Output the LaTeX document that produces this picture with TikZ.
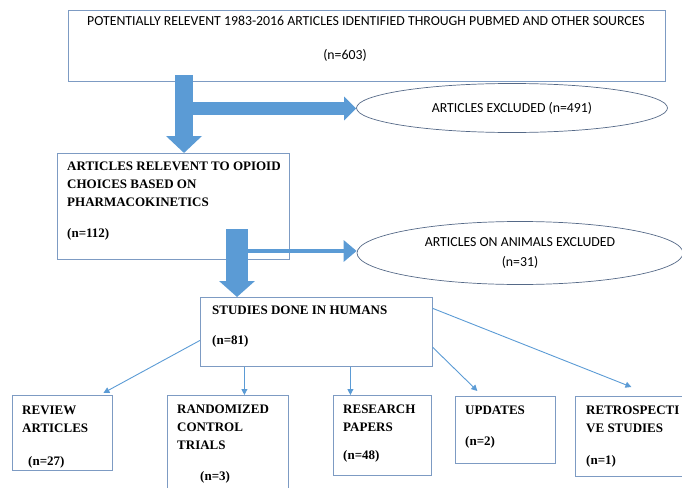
\documentclass[tikz,border=0pt]{standalone}
\usepackage{fontspec}
\setmainfont{Liberation Serif}
\newfontfamily\calibri{Carlito}
\usetikzlibrary{shapes.geometric,arrows.meta}

\definecolor{boxline}{RGB}{125,155,195}
\definecolor{ovalline}{RGB}{85,105,135}
\definecolor{arrowblue}{RGB}{91,155,213}

\tikzset{
    box/.style={draw=boxline, line width=0.8pt, anchor=north west, inner sep=0pt},
    boxtext/.style={anchor=north west, inner sep=0pt, align=left, font=\fontsize{13}{18}\selectfont\bfseries},
    oval/.style={ellipse, draw=ovalline, line width=0.7pt, inner sep=0pt, align=center, font=\calibri\fontsize{13.8}{20}\selectfont},
    sanstext/.style={inner sep=0pt, font=\calibri\fontsize{13.8}{16}\selectfont},
    fatarrow/.style={draw=arrowblue, line width=18pt, -{Triangle[width=35pt,length=17pt]}},
    thinarrow/.style={draw=arrowblue, line width=0.9pt, -{Triangle[width=6pt,length=6pt]}},
}

\begin{document}
\begin{tikzpicture}[x=1pt, y=-1pt]
    \useasboundingbox (0,0) rectangle (682,487);

    \node[box, minimum width=597pt, minimum height=71pt] (sources) at (68,10) {};
    \node[sanstext] (sourcestext) at (366,21) {POTENTIALLY RELEVENT 1983-2016 ARTICLES IDENTIFIED THROUGH PUBMED AND OTHER SOURCES};
    \node[sanstext] (sourcesn) at (345,55) {(n=603)};

    \node[oval, minimum width=311pt, minimum height=49pt] (excluded) at (512,108) {ARTICLES EXCLUDED (n=491)};

    \node[box, minimum width=232pt, minimum height=106pt] (pharma) at (57,153) {};
    \node[boxtext] (pharmatext) at (67,161.5) {ARTICLES RELEVENT TO OPIOID\\CHOICES BASED ON\\PHARMACOKINETICS\\[13pt](n=112)};

    \node[oval, minimum width=326pt, minimum height=63pt] (animals) at (520,253) {ARTICLES ON ANIMALS EXCLUDED\\(n=31)};

    \node[box, minimum width=232pt, minimum height=69pt] (humans) at (200,297) {};
    \node[boxtext] (humanstext) at (212,305.7) {STUDIES DONE IN HUMANS\\[12pt](n=81)};

    \node[box, minimum width=100pt, minimum height=75pt] (review) at (12,395) {};
    \node[boxtext] (reviewtext) at (22,405.7) {REVIEW\\ARTICLES\\[15pt]\hspace*{6pt}(n=27)};
    \node[box, minimum width=121pt, minimum height=100pt] (trials) at (167,395) {};
    \node[boxtext] (trialstext) at (177,404.7) {RANDOMIZED\\CONTROL\\TRIALS\\[13pt]\hspace*{23pt}(n=3)};
    \node[box, minimum width=98pt, minimum height=80pt] (research) at (333,395) {};
    \node[boxtext] (researchtext) at (343,404.7) {RESEARCH\\PAPERS\\[10pt](n=48)};
    \node[box, minimum width=100pt, minimum height=67pt] (updates) at (455,396) {};
    \node[boxtext] (updatestext) at (465,406) {UPDATES\\[13pt](n=2)};
    \node[box, minimum width=108pt, minimum height=80pt] (retro) at (575,396) {};
    \node[boxtext] (retrotext) at (586,405.7) {RETROSPECTI\\VE STUDIES\\[14pt](n=1)};

    \coordinate (drop1) at (184,75);
    \coordinate (branch1) at (193,108.5);
    \coordinate (drop2) at (237,229);
    \coordinate (branch2) at (248,251);
    \draw[fatarrow] (drop1) -- (drop1 |- pharma.north);
    \draw[fatarrow, line width=13pt, -{Triangle[width=23pt,length=12pt]}] (branch1) -- (branch1 -| excluded.west);
    \draw[fatarrow, line width=22pt, -{Triangle[width=35pt,length=16pt]}] (drop2) -- (drop2 |- humans.north);
    \draw[fatarrow, line width=4pt, -{Triangle[width=21pt,length=13pt]}] (branch2) -- (branch2 -| animals.west);

    \coordinate (toreview) at ([yshift=-8.5pt]humans.west);
    \coordinate (totrials) at ([xshift=-72pt]humans.south);
    \coordinate (toresearch) at ([xshift=34pt]humans.south);
    \coordinate (toupdates) at ([yshift=-15.5pt]humans.east);
    \coordinate (toretro) at ([yshift=23.5pt]humans.east);
    \draw[thinarrow] (toreview) -- ([xshift=41pt,yshift=2pt]review.north);
    \draw[thinarrow] (totrials) -- (totrials |- trials.north);
    \draw[thinarrow] (toresearch) -- (toresearch |- research.north);
    \draw[thinarrow] (toupdates) -- ([xshift=-28pt,yshift=5pt]updates.north);
    \draw[thinarrow] (toretro) -- ([xshift=2pt,yshift=9pt]retro.north);
\end{tikzpicture}
\end{document}
